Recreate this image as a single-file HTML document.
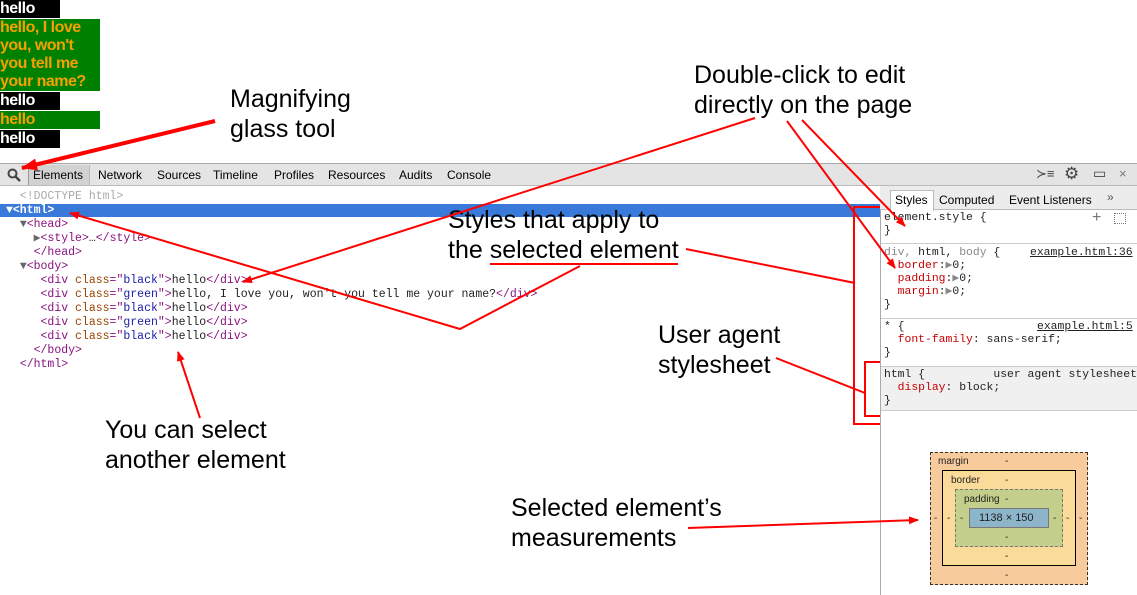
<!DOCTYPE html>
<html><head><meta charset="utf-8"><style>
*{margin:0;padding:0;box-sizing:border-box}
body{width:1137px;height:595px;position:relative;background:#fff;overflow:hidden;font-family:"Liberation Sans",sans-serif}
.a{position:absolute}
.hb{position:absolute;left:0;font:bold 16px/18px "Liberation Sans",sans-serif;letter-spacing:-0.5px}
.k{background:#000;color:#fff;width:60px;height:18px}
.g{background:#008000;color:#f5a000;width:100px}
.lbl{position:absolute;font-size:25px;line-height:30px;color:#000}
.code{position:absolute;font:11.5px/14px "Liberation Mono",monospace;white-space:pre;color:#222}
.t{color:#881280}.at{color:#994500}.v{color:#1a1aa6}
.tb{position:absolute;font-size:12px;top:168px}
.css{position:absolute;left:884px;font:11.4px/13px "Liberation Mono",monospace;white-space:pre;color:#222}
.p{color:#c80000}
</style></head><body>
<div class="hb k" style="top:0">hello</div>
<div class="hb g" style="top:19px;height:72px">hello, I love you, won't you tell me your name?</div>
<div class="hb k" style="top:92px">hello</div>
<div class="hb g" style="top:111px;height:18px">hello</div>
<div class="hb k" style="top:130px">hello</div>

<!-- toolbar -->
<div class="a" style="left:0;top:163px;width:1137px;height:23px;background:#e4e4e4;border-top:1px solid #a8a8a8;border-bottom:1px solid #bbb"></div>
<div class="a" style="left:28px;top:165px;width:62px;height:20px;background:#d2d2d2;border-left:1px solid #999;border-right:1px solid #bbb"></div>
<svg class="a" style="left:7px;top:168px" width="14" height="14"><circle cx="5.5" cy="5.5" r="4" stroke="#444" stroke-width="2" fill="none"/><line x1="8.5" y1="8.5" x2="13" y2="13" stroke="#444" stroke-width="2.5"/></svg>
<div class="tb" style="left:33px">Elements</div>
<div class="tb" style="left:98px">Network</div>
<div class="tb" style="left:157px">Sources</div>
<div class="tb" style="left:213px">Timeline</div>
<div class="tb" style="left:274px">Profiles</div>
<div class="tb" style="left:328px">Resources</div>
<div class="tb" style="left:399px">Audits</div>
<div class="tb" style="left:447px">Console</div>
<div class="tb" style="left:1036px;font-size:13px;color:#444;top:166px">≻≡</div>
<div class="tb" style="left:1064px;font-size:17px;color:#444;top:164px">⚙</div>
<div class="tb" style="left:1093px;font-size:14px;color:#444;top:165px">▭</div>
<div class="tb" style="left:1119px;font-size:13px;color:#777;top:166px">×</div>

<!-- elements panel -->
<div class="a" style="left:0;top:204px;width:880px;height:13px;background:#3879d9"></div>
<div class="code" style="left:6px;top:190px"><span style="color:#aaa">  &lt;!DOCTYPE html&gt;</span>
<span style="color:#fff;font-weight:bold">▼&lt;html&gt;</span>
  <span style="color:#666">▼</span><span class="t">&lt;head&gt;</span>
    <span style="color:#666">▶</span><span class="t">&lt;style&gt;</span>…<span class="t">&lt;/style&gt;</span>
    <span class="t">&lt;/head&gt;</span>
  <span style="color:#666">▼</span><span class="t">&lt;body&gt;</span>
     <span class="t">&lt;div</span> <span class="at">class</span><span class="t">="</span><span class="v">black</span><span class="t">"&gt;</span>hello<span class="t">&lt;/div&gt;</span>
     <span class="t">&lt;div</span> <span class="at">class</span><span class="t">="</span><span class="v">green</span><span class="t">"&gt;</span>hello, I love you, won't you tell me your name?<span class="t">&lt;/div&gt;</span>
     <span class="t">&lt;div</span> <span class="at">class</span><span class="t">="</span><span class="v">black</span><span class="t">"&gt;</span>hello<span class="t">&lt;/div&gt;</span>
     <span class="t">&lt;div</span> <span class="at">class</span><span class="t">="</span><span class="v">green</span><span class="t">"&gt;</span>hello<span class="t">&lt;/div&gt;</span>
     <span class="t">&lt;div</span> <span class="at">class</span><span class="t">="</span><span class="v">black</span><span class="t">"&gt;</span>hello<span class="t">&lt;/div&gt;</span>
    <span class="t">&lt;/body&gt;</span>
  <span class="t">&lt;/html&gt;</span></div>

<!-- right panel -->
<div class="a" style="left:880px;top:186px;width:257px;height:409px;background:#fff;border-left:1px solid #aaa"></div>
<div class="a" style="left:880px;top:186px;width:257px;height:24px;background:#ececec;border-bottom:1px solid #bbb"></div>
<div class="a" style="left:890px;top:190px;width:44px;height:21px;background:#fff;border:1px solid #bbb;border-bottom:none"></div>
<div class="tb" style="left:895px;top:193px">Styles</div>
<div class="tb" style="left:939px;top:193px">Computed</div>
<div class="tb" style="left:1009px;top:193px">Event Listeners</div>
<div class="tb" style="left:1107px;top:190px;color:#555">»</div>
<div class="a" style="left:881px;top:243px;width:256px;height:1px;background:#ccc"></div>
<div class="a" style="left:881px;top:318px;width:256px;height:1px;background:#ccc"></div>
<div class="a" style="left:881px;top:366px;width:256px;height:45px;background:#f0f0f0;border-top:1px solid #ccc;border-bottom:1px solid #ccc"></div>
<div class="css" style="top:212px">element.style {
}</div>
<div class="a" style="left:1092px;top:209px;font-size:16px;color:#777">+</div>
<div class="a" style="left:1114px;top:213px;width:12px;height:11px;border:1px dotted #777"></div>
<div class="css" style="top:247px"><span style="color:#888">div,</span> html, <span style="color:#888">body</span> {
  <span class="p">border</span>:<span style="color:#888">▶</span>0;
  <span class="p">padding</span>:<span style="color:#888">▶</span>0;
  <span class="p">margin</span>:<span style="color:#888">▶</span>0;
}</div>
<div class="css" style="top:247px;left:1030px;text-decoration:underline">example.html:36</div>
<div class="css" style="top:321px">* {
  <span class="p">font-family</span>: sans-serif;
}</div>
<div class="css" style="top:321px;left:1037px;text-decoration:underline">example.html:5</div>
<div class="css" style="top:369px">html {          user agent stylesheet
  <span class="p">display</span>: block;
}</div>

<!-- box model -->
<div class="a" style="left:930px;top:452px;width:158px;height:133px;background:#f8cb9c;border:1px dashed #333"></div>
<div class="a" style="left:942px;top:470px;width:134px;height:96px;background:#fbdb99;border:1px solid #000"></div>
<div class="a" style="left:955px;top:489px;width:108px;height:58px;background:#c3cf8a;border:1px dashed #777"></div>
<div class="a" style="left:969px;top:508px;width:80px;height:20px;background:#8cb5c9;border:1px solid #777"></div>
<div class="a" style="font-size:10px;color:#222;left:938px;top:456px">margin</div>
<div class="a" style="font-size:10px;color:#222;left:951px;top:475px">border</div>
<div class="a" style="font-size:10px;color:#222;left:964px;top:494px">padding</div>
<div class="a" style="font-size:11px;color:#222;left:979px;top:512px">1138 × 150</div>
<div class="a" style="font-size:10px;color:#222;left:1005px;top:456px">-</div>
<div class="a" style="font-size:10px;color:#222;left:1005px;top:475px">-</div>
<div class="a" style="font-size:10px;color:#222;left:1005px;top:494px">-</div>
<div class="a" style="font-size:10px;color:#222;left:1005px;top:532px">-</div>
<div class="a" style="font-size:10px;color:#222;left:1005px;top:551px">-</div>
<div class="a" style="font-size:10px;color:#222;left:1005px;top:570px">-</div>
<div class="a" style="font-size:10px;color:#222;left:934px;top:513px">-</div>
<div class="a" style="font-size:10px;color:#222;left:947px;top:513px">-</div>
<div class="a" style="font-size:10px;color:#222;left:960px;top:513px">-</div>
<div class="a" style="font-size:10px;color:#222;left:1053px;top:513px">-</div>
<div class="a" style="font-size:10px;color:#222;left:1066px;top:513px">-</div>
<div class="a" style="font-size:10px;color:#222;left:1079px;top:513px">-</div>

<!-- labels -->
<div class="lbl" style="left:230px;top:84px">Magnifying<br>glass tool</div>
<div class="lbl" style="left:694px;top:60px">Double-click to edit<br>directly on the page</div>
<div class="lbl" style="left:448px;top:205px">Styles that apply to<br>the selected element</div>
<div class="lbl" style="left:658px;top:320px">User agent<br>stylesheet</div>
<div class="lbl" style="left:105px;top:415px">You can select<br>another element</div>
<div class="lbl" style="left:511px;top:493px">Selected element’s<br>measurements</div>

<svg class="a" style="left:0;top:0" width="1137" height="595">
<defs><marker id="m" markerWidth="10" markerHeight="8" refX="9" refY="4" orient="auto" markerUnits="userSpaceOnUse"><path d="M0,0 L10,4 L0,8 z" fill="#f00"/></marker>
<marker id="M" markerWidth="16" markerHeight="12" refX="15" refY="6" orient="auto" markerUnits="userSpaceOnUse"><path d="M0,0 L16,6 L0,12 z" fill="#f00"/></marker></defs>
<g stroke="#f00" stroke-width="2" fill="none">
<line x1="215" y1="121" x2="22" y2="168" stroke-width="4" marker-end="url(#M)"/>
<line x1="755" y1="118" x2="243" y2="282" marker-end="url(#m)"/>
<line x1="787" y1="121" x2="895" y2="268" marker-end="url(#m)"/>
<line x1="802" y1="120" x2="905" y2="226" marker-end="url(#m)"/>
<polyline points="580,266 460,329 70,213" marker-end="url(#m)"/>
<line x1="490" y1="264" x2="678" y2="264"/>
<line x1="686" y1="249" x2="855" y2="283"/>
<polyline points="880,207 854,207 854,424 880,424"/>
<polyline points="880,362 865,362 865,416 880,416"/>
<line x1="776" y1="358" x2="865" y2="393"/>
<line x1="200" y1="418" x2="178" y2="352" marker-end="url(#m)"/>
<line x1="688" y1="528" x2="918" y2="520" marker-end="url(#m)"/>
</g></svg>
</body></html>
